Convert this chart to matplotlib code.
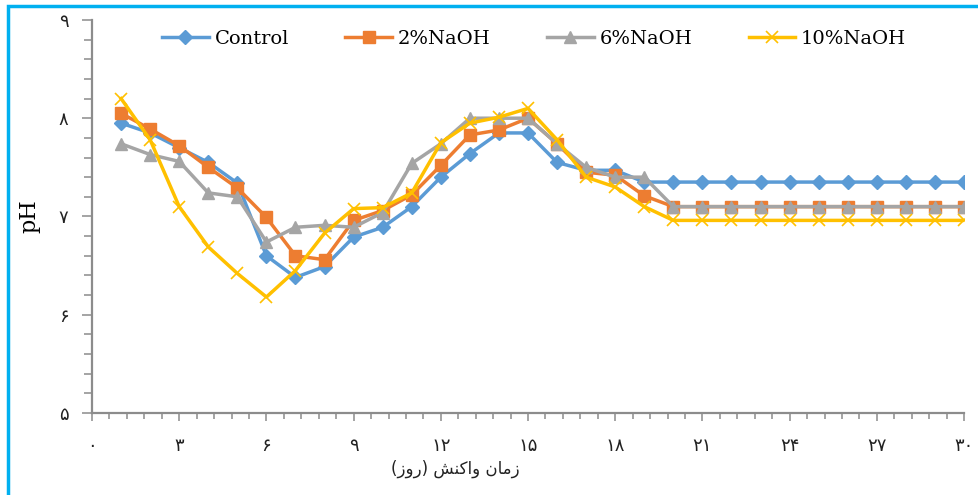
import numpy as np
import matplotlib.pyplot as plt
from matplotlib.ticker import MultipleLocator, FixedLocator
from matplotlib.patches import Rectangle

# Days of reaction (1..30)
days = list(range(1, 31))

control = [7.95, 7.85, 7.70, 7.55, 7.34, 6.60, 6.38, 6.49, 6.79, 6.89,
           7.10, 7.40, 7.64, 7.85, 7.85, 7.55, 7.47, 7.47, 7.35, 7.35,
           7.35, 7.35, 7.35, 7.35, 7.35, 7.35, 7.35, 7.35, 7.35, 7.35]
naoh2 = [8.05, 7.89, 7.72, 7.50, 7.29, 6.99, 6.60, 6.56, 6.96, 7.06,
         7.22, 7.52, 7.83, 7.88, 8.00, 7.74, 7.45, 7.42, 7.21, 7.10,
         7.10, 7.10, 7.10, 7.10, 7.10, 7.10, 7.10, 7.10, 7.10, 7.10]
naoh6 = [7.74, 7.63, 7.56, 7.24, 7.20, 6.74, 6.89, 6.91, 6.89, 7.04,
         7.54, 7.74, 8.00, 8.00, 8.00, 7.74, 7.50, 7.40, 7.40, 7.10,
         7.10, 7.10, 7.10, 7.10, 7.10, 7.10, 7.10, 7.10, 7.10, 7.10]
naoh10 = [8.20, 7.78, 7.10, 6.69, 6.42, 6.18, 6.45, 6.83, 7.08, 7.09,
          7.24, 7.75, 7.95, 8.01, 8.10, 7.78, 7.40, 7.30, 7.10, 6.96,
          6.96, 6.96, 6.96, 6.96, 6.96, 6.96, 6.96, 6.96, 6.96, 6.96]

series_names = ['Control', '2%NaOH', '6%NaOH', '10%NaOH']

# Persian digit tick labels
x_ticks = [0, 3, 6, 9, 12, 15, 18, 21, 24, 27, 30]
x_labels = ['۰', '۳', '۶', '۹', '۱۲', '۱۵', '۱۸', '۲۱', '۲۴', '۲۷', '۳۰']
y_ticks = [5, 6, 7, 8, 9]
y_labels = ['۵', '۶', '۷', '۸', '۹']

# "زمان واکنش (روز)" pre-shaped (presentation forms, visual order)
xlabel_text = '(\uFEAF\uFEED\uFEAD) \uFEB6\uFEE8\uFB90\uFE8D\uFEED \uFEE5\uFE8E\uFEE3\uFEAF'

fig = plt.figure(figsize=(9.79, 4.95), dpi=100)
ax = fig.add_axes([0.094, 0.1657, 0.8907, 0.794])

ax.plot(days, control, color='#5B9BD5', lw=2.5, marker='D', ms=7, label=series_names[0])
ax.plot(days, naoh2, color='#ED7D31', lw=2.5, marker='s', ms=8, label=series_names[1])
ax.plot(days, naoh6, color='#A5A5A5', lw=2.5, marker='^', ms=8, label=series_names[2])
ax.plot(days, naoh10, color='#FFC000', lw=2.5, marker='x', ms=8, mew=1.2, label=series_names[3])

ax.set_xlim(0, 30)
ax.set_ylim(5, 9)
ax.xaxis.set_major_locator(FixedLocator(x_ticks))
ax.xaxis.set_minor_locator(MultipleLocator(0.6))
ax.yaxis.set_major_locator(FixedLocator(y_ticks))
ax.yaxis.set_minor_locator(MultipleLocator(0.2))
ax.set_xticklabels(x_labels, fontsize=13, family='DejaVu Sans', color='#222222')
ax.set_yticklabels(y_labels, fontsize=13, family='DejaVu Sans', color='#222222')

for s in ['top', 'right']:
    ax.spines[s].set_visible(False)
for s in ['left', 'bottom']:
    ax.spines[s].set_color('#8C8C8C')
    ax.spines[s].set_linewidth(1.6)

ax.tick_params(axis='both', which='both', color='#8C8C8C', width=1.1, direction='out')
ax.tick_params(axis='x', which='major', length=6, pad=11)
ax.tick_params(axis='x', which='minor', length=4)
ax.tick_params(axis='y', which='major', length=7, pad=10)
ax.tick_params(axis='y', which='minor', length=6)

ax.set_ylabel('pH', fontsize=16, family='DejaVu Serif', labelpad=13)
fig.text(0.465, 0.052, xlabel_text, fontsize=12, family='DejaVu Sans',
         ha='center', va='center', color='#222222')

ax.legend(loc='upper center', bbox_to_anchor=(0.507, 1.02), ncol=4, frameon=False,
          prop={'family': 'DejaVu Serif', 'size': 14}, handlelength=2.4,
          columnspacing=2.9, handletextpad=0.3)

# light blue frame around the figure
fig.patches.append(Rectangle((0.0085, -0.05), 1.2, 1.037, transform=fig.transFigure,
                             fill=False, edgecolor='#00B0F0', lw=2.5, zorder=0))

fig.savefig('out.png', dpi=100)
